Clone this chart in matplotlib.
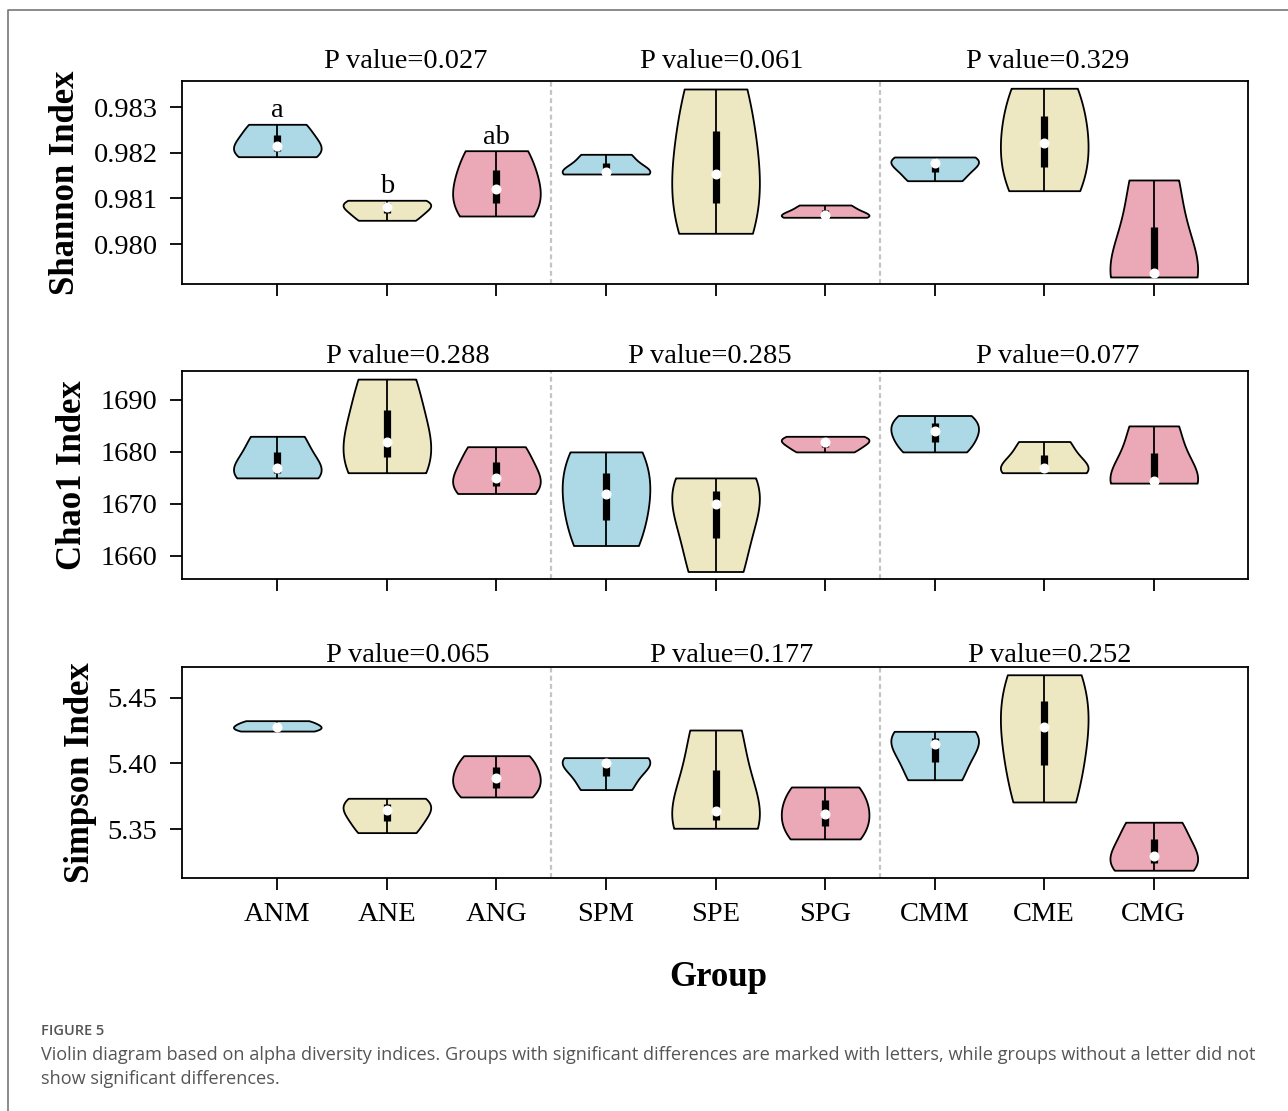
import matplotlib
matplotlib.use('Agg')
import matplotlib.pyplot as plt
import numpy as np
from matplotlib.lines import Line2D

# ========= data: three replicates per group =========

groups = ['ANM', 'ANE', 'ANG', 'SPM', 'SPE', 'SPG', 'CMM', 'CME', 'CMG']

shannon = [
    [0.981917, 0.982151, 0.982627],
    [0.980522, 0.980820, 0.980961],
    [0.980616, 0.981202, 0.982048],
    [0.981537, 0.981588, 0.981969],
    [0.980237, 0.981544, 0.983401],
    [0.980588, 0.980638, 0.980857],
    [0.981390, 0.981772, 0.981910],
    [0.981171, 0.982211, 0.983417],
    [0.979279, 0.979360, 0.981406],
]

chao1 = [
    [1675.0, 1677.0, 1683.0],
    [1676.0, 1682.0, 1694.0],
    [1672.0, 1675.0, 1681.0],
    [1662.0, 1672.0, 1680.0],
    [1657.0, 1670.0, 1675.0],
    [1680.0, 1682.0, 1683.0],
    [1680.0, 1684.0, 1687.0],
    [1676.0, 1677.0, 1682.0],
    [1674.0, 1674.4, 1685.0],
]

simpson = [
    [5.4245, 5.4278, 5.4324],
    [5.3473, 5.3645, 5.3734],
    [5.3744, 5.3886, 5.4058],
    [5.3800, 5.4002, 5.4043],
    [5.3506, 5.3638, 5.4253],
    [5.3425, 5.3615, 5.3820],
    [5.3875, 5.4149, 5.4243],
    [5.3706, 5.4274, 5.4673],
    [5.3187, 5.3298, 5.3552],
]

p_shannon = ['0.027', '0.061', '0.329']
p_chao1 = ['0.288', '0.285', '0.077']
p_simpson = ['0.065', '0.177', '0.252']
shannon_letters = ['a', 'b', 'ab', '', '', '', '', '', '']

# ========= style / layout =========

colors = ['#ADD8E6', '#EEE8C2', '#EBA8B6'] * 3
W, H = 1288, 1111
plt.rcParams['font.family'] = ['Liberation Serif', 'DejaVu Serif']

fig = plt.figure(figsize=(W / 100, H / 100), dpi=100)

# label, values, p-values, p-label x, p-label offset (px), ylim, yticks, fmt, letters, top px, bottom px
panels = [
    ('Shannon Index', shannon, p_shannon, [2.17, 5.06, 8.03], 13,
     (0.979125, 0.983583), [0.980, 0.981, 0.982, 0.983], '{:.3f}', shannon_letters, 80.7, 284.0),
    ('Chao1 Index', chao1, p_chao1, [2.19, 4.95, 8.12], 8,
     (1655.5, 1695.5), [1660, 1670, 1680, 1690], '{:.0f}', None, 371.3, 579.3),
    ('Simpson Index', simpson, p_simpson, [2.19, 5.15, 8.05], 5,
     (5.3128, 5.4732), [5.35, 5.40, 5.45], '{:.2f}', None, 667.0, 878.0),
]

pos = np.arange(1, len(groups) + 1)

for i, (label, vals, pvals, px, poff, ylim, yticks, fmt, letters, top, bot) in enumerate(panels):
    ax = fig.add_axes([182 / W, 1 - bot / H, (1248 - 182) / W, (bot - top) / H])

    parts = ax.violinplot(vals, positions=pos, widths=0.8, showextrema=False)
    for body, c in zip(parts['bodies'], colors):
        body.set_facecolor(c)
        body.set_edgecolor('black')
        body.set_linewidth(1.3)
        body.set_alpha(1)

    for x, v in zip(pos, vals):
        q1, med, q3 = np.percentile(v, [25, 50, 75])
        ax.plot([x, x], [min(v), max(v)], color='black', lw=1.3, solid_capstyle='butt', zorder=3)
        ax.plot([x, x], [q1, q3], color='black', lw=5.2, solid_capstyle='butt', zorder=4)
        ax.plot(x, med, 'o', color='white', ms=6.2, mec='white', zorder=5)

    for xd in [3.5, 6.5]:
        ax.axvline(xd, color='#C4C4C4', lw=1.6, dashes=(2.2, 1.5), zorder=0)

    if letters is not None:
        for x, v, t in zip(pos, vals, letters):
            if t:
                ax.annotate(t, (x, max(v)), xytext=(0, 5), textcoords='offset points',
                            ha='center', va='baseline', fontsize=20.5)

    for x, p in zip(px, pvals):
        ax.annotate('P value=' + p, (x, 1), xycoords=('data', 'axes fraction'),
                    xytext=(0, poff * 0.72), textcoords='offset points',
                    ha='center', va='baseline', fontsize=20.5, annotation_clip=False)

    ax.set_xlim(0.13, 9.86)
    ax.set_ylim(*ylim)
    ax.set_yticks(yticks)
    ax.set_yticklabels([fmt.format(t) for t in yticks])
    ax.set_xticks(pos)
    if i == len(panels) - 1:
        ax.set_xticklabels(groups)
    else:
        ax.tick_params(axis='x', labelbottom=False)
    ax.tick_params(axis='both', direction='out', length=8.6, width=1.3, labelsize=20.5)
    ax.tick_params(axis='y', pad=9)
    ax.tick_params(axis='x', pad=9)
    for s in ax.spines.values():
        s.set_linewidth(1.3)
    ax.set_ylabel(label, fontsize=25, fontweight='bold', labelpad=8)

fig.text(718 / W, 1 - 977 / H, 'Group', ha='center', va='center', fontsize=25, fontweight='bold')

# ========= caption and frame =========

fig.text(41 / W, 1 - 1031 / H, 'FIGURE 5', family='Open Sans', fontsize=10.5, color='#555555',
         va='center', fontweight='semibold')
fig.text(41 / W, 1 - 1055 / H,
         'Violin diagram based on alpha diversity indices. Groups with significant differences are '
         'marked with letters, while groups without a letter did not',
         family='Open Sans', fontsize=13.1, color='#555555', va='center')
fig.text(41 / W, 1 - 1079 / H, 'show significant differences.',
         family='Open Sans', fontsize=13.1, color='#555555', va='center')

fig.add_artist(Line2D([8 / W, 8 / W, 1], [0, 1 - 10 / H, 1 - 10 / H],
                      transform=fig.transFigure, color='#777777', lw=1.2))

fig.savefig('out.png', dpi=100)
plt.close(fig)
